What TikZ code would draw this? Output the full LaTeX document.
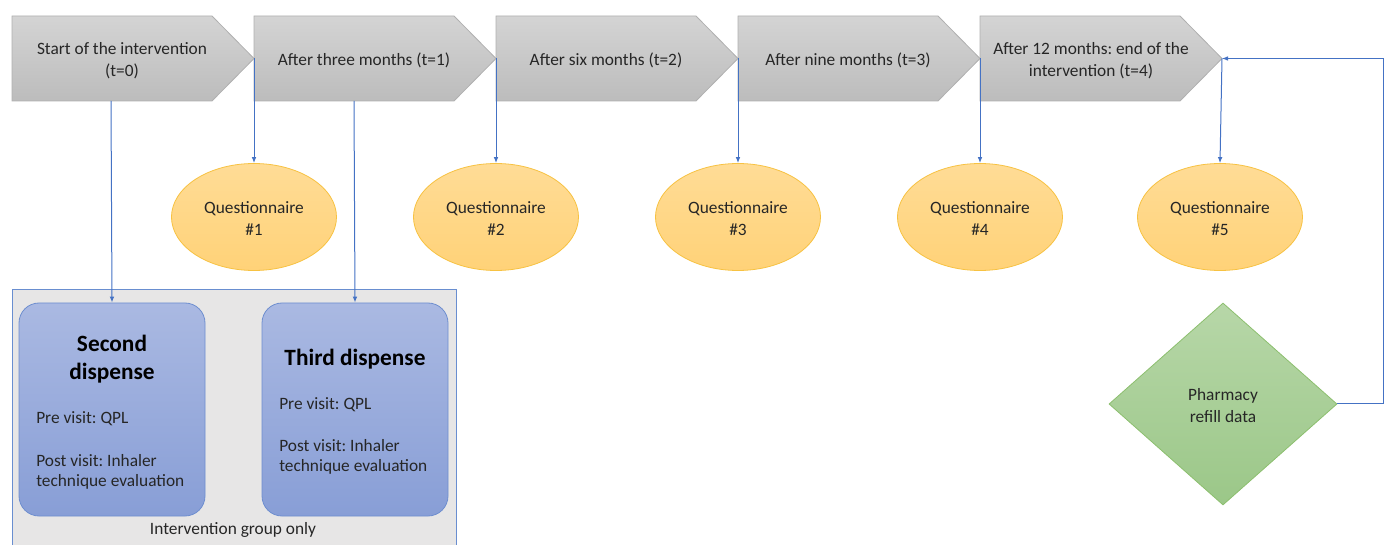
\documentclass[tikz,border=0pt]{standalone}
\usepackage{fontspec}
\setmainfont{Carlito}
\frenchspacing
\usetikzlibrary{shapes.geometric,arrows.meta}
\definecolor{connc}{HTML}{4472C4}
\definecolor{txt}{HTML}{262626}
\tikzset{
  chev/.style={top color=chevtop,bottom color=chevbot,draw=chevline,line width=0.6pt},
  ctext/.style={font=\fontsize{13}{16.5}\selectfont,text=txt,align=center,inner sep=0pt},
  conn/.style={draw=connc,line width=0.75pt,-{Latex[length=4.5pt,width=3.5pt]}},
  plain/.style={draw=connc,line width=0.75pt},
  quest/.style={ellipse,minimum width=123.75pt,minimum height=80.25pt,top color=qtop,bottom color=qbot,draw=qline,line width=0.6pt},
  qtext/.style={font=\fontsize{13}{16.5}\selectfont,text=txt,align=center,inner sep=0pt},
  dbox/.style={rectangle,rounded corners=15pt,minimum width=139.5pt,minimum height=159.75pt,top color=btop,bottom color=bbot,draw=bline,line width=0.6pt},
  dtitle/.style={font=\fontsize{17.5}{21}\selectfont\bfseries,text=black,align=center,inner sep=0pt},
  dtext/.style={font=\fontsize{13}{15}\selectfont,text=txt,align=left,inner sep=0pt,anchor=west},
  pharm/.style={diamond,minimum width=171pt,minimum height=151.5pt,inner sep=0pt,top color=gtop,bottom color=gbot,draw=gline,line width=0.6pt}
}
\definecolor{chevtop}{HTML}{D4D4D4}
\definecolor{chevbot}{HTML}{BCBCBC}
\definecolor{chevline}{HTML}{B0B0B0}
\definecolor{qtop}{HTML}{FFDC96}
\definecolor{qbot}{HTML}{FFD278}
\definecolor{qline}{HTML}{F7C242}
\definecolor{btop}{HTML}{AAB9E2}
\definecolor{bbot}{HTML}{889ED6}
\definecolor{bline}{HTML}{6E8ECF}
\definecolor{gtop}{HTML}{B7D7A8}
\definecolor{gbot}{HTML}{9BC788}
\definecolor{gline}{HTML}{8CBF6E}
\definecolor{grp}{HTML}{E7E6E6}
\begin{document}
\begin{tikzpicture}[x=0.75pt,y=-0.75pt]
\useasboundingbox (0,0) rectangle (1390,545);
% chevrons
\foreach \L in {12,254,496,738,980} {
  \path[chev] (\L,16) -- (\L+200,16) -- (\L+242,58.5) -- (\L+200,101) -- (\L,101) -- cycle;
}
\node[ctext] (c1) at (122,60.5) {Start of the intervention\\(t=0)};
\node[ctext] (c2) at (364,60.5) {After three months (t=1)};
\node[ctext] (c3) at (606,60.5) {After six months (t=2)};
\node[ctext] (c4) at (848,60.5) {After nine months (t=3)};
\node[ctext] (c5) at (1091,60.5) {After 12 months: end of the\\intervention (t=4)};
\coordinate (t1) at (254,58.5);
\coordinate (t2) at (496,58.5);
\coordinate (t3) at (738,58.5);
\coordinate (t4) at (980,58.5);
\coordinate (t5) at (1222,58.5);
\coordinate (c1b) at (111,101);
\coordinate (c2b) at (354,101);
% questionnaires
\foreach \x/\n in {254/1,496/2,738/3,980/4,1220/5} {
  \node[quest] (q\n) at (\x,217) {};
  \node[qtext] (q\n t) at (\x,219) {Questionnaire\\\#\n};
}
% group box
\fill[grp] (12,290) rectangle (456,546);
\draw[plain,draw=connc!80] (12,546) -- (12,290) -- (456,290) -- (456,546);
\node[dbox] (sd) at (112,409.5) {};
\node[dbox] (td) at (355,409.5) {};
\node[dtitle] (sdt) at (112,359) {Second\\dispense};
\node[dtitle] (tdt) at (355,359) {Third dispense};
\node[dtext] (sd1) at (36,419) {Pre visit: QPL};
\node[dtext] (sd2) at (36,472) {Post visit: Inhaler\\technique evaluation};
\node[dtext] (td1) at (279,405) {Pre visit: QPL};
\node[dtext] (td2) at (279,457) {Post visit: Inhaler\\technique evaluation};
\node[ctext] (grl) at (233,530) {Intervention group only};
% pharmacy
\node[pharm] (ph) at (1223,404) {};
\node[ctext] (pht) at (1223,405.5) {Pharmacy\\refill data};
\coordinate (rc) at (1383,58.5);
% connectors
\draw[conn] (c1b) -- (sd.north);
\draw[conn] (c2b) -- (td.north);
\draw[conn] (t1) -- (q1.north);
\draw[conn] (t2) -- (q2.north);
\draw[conn] (t3) -- (q3.north);
\draw[conn] (t4) -- (q4.north);
\draw[conn] (t5) -- (q5.north);
\draw[conn] (ph.east) -| (rc) -- (t5);
\end{tikzpicture}
\end{document}
